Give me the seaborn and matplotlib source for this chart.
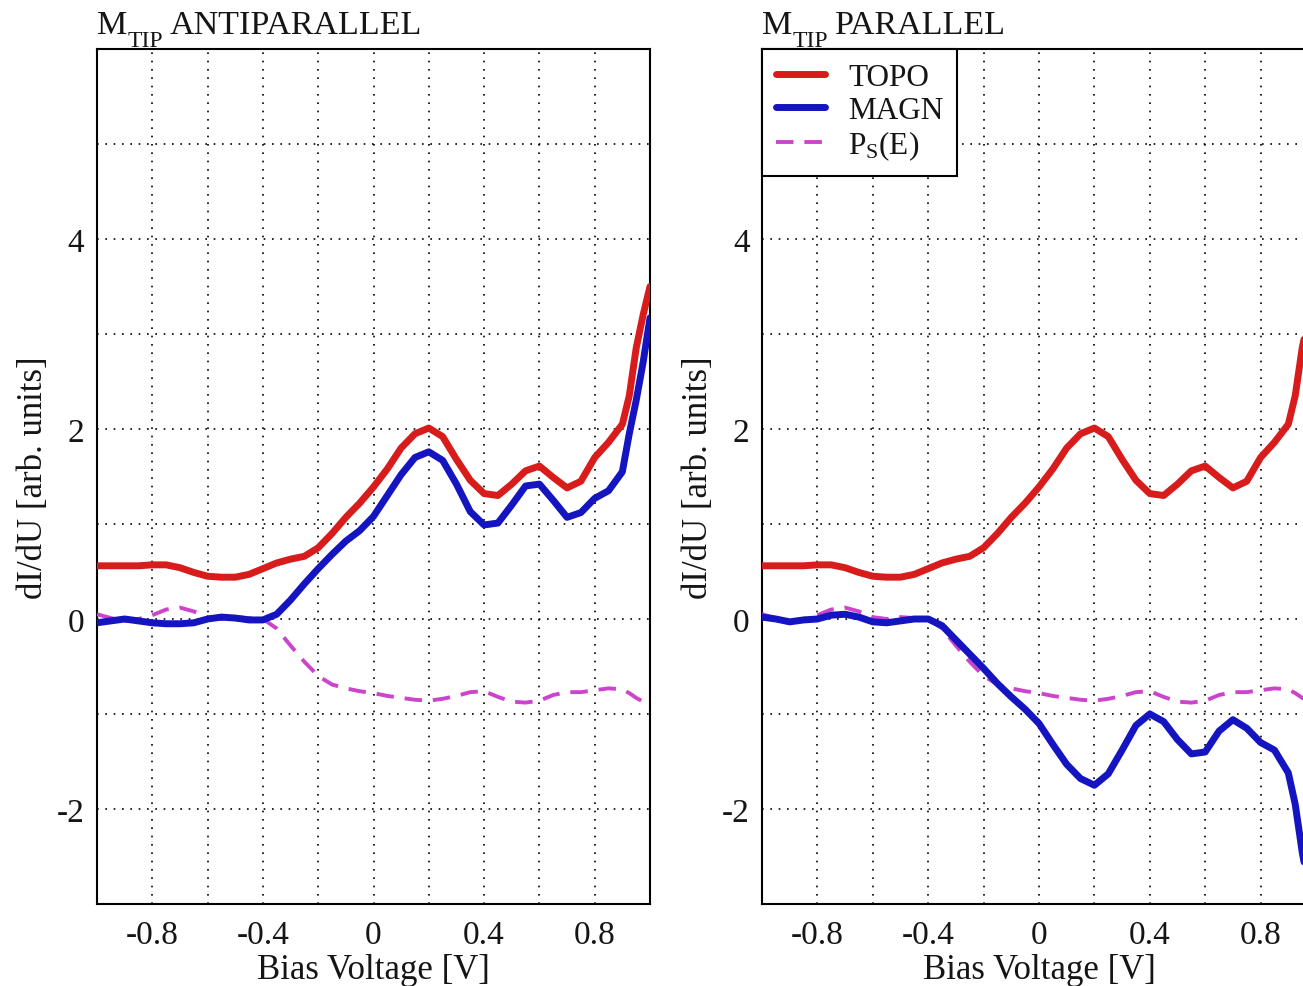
import numpy as np
import pandas as pd
import matplotlib
matplotlib.use("Agg")
import matplotlib.pyplot as plt
import seaborn as sns
from matplotlib.ticker import FixedLocator, MultipleLocator

# ---------------- data ----------------
bias = [-1.00, -0.95, -0.90, -0.85, -0.80, -0.75, -0.70, -0.65, -0.60, -0.55,
        -0.50, -0.45, -0.40, -0.35, -0.30, -0.25, -0.20, -0.15, -0.10, -0.05,
        0.00, 0.05, 0.10, 0.15, 0.20, 0.25, 0.30, 0.35, 0.40, 0.45,
        0.50, 0.55, 0.60, 0.65, 0.70, 0.75, 0.80, 0.85, 0.90, 0.925,
        0.95, 0.975, 1.00]

topo = [0.56, 0.56, 0.56, 0.56, 0.57, 0.57, 0.54, 0.49, 0.45, 0.44,
        0.44, 0.47, 0.53, 0.59, 0.63, 0.66, 0.75, 0.90, 1.07, 1.22,
        1.39, 1.58, 1.80, 1.95, 2.01, 1.92, 1.68, 1.46, 1.32, 1.30,
        1.42, 1.56, 1.61, 1.49, 1.38, 1.45, 1.70, 1.86, 2.05, 2.35,
        2.85, 3.20, 3.50]

magn_antiparallel = [-0.04, -0.02, 0.00, -0.02, -0.04, -0.05, -0.05, -0.04, 0.00, 0.02,
                     0.01, -0.01, -0.01, 0.05, 0.20, 0.37, 0.53, 0.68, 0.82, 0.93,
                     1.08, 1.30, 1.52, 1.70, 1.76, 1.67, 1.42, 1.13, 0.99, 1.01,
                     1.20, 1.40, 1.42, 1.25, 1.07, 1.12, 1.27, 1.35, 1.55, 1.95,
                     2.30, 2.70, 3.17]

magn_parallel = [0.02, 0.00, -0.03, -0.01, 0.00, 0.04, 0.05, 0.02, -0.03, -0.04,
                 -0.02, 0.00, 0.00, -0.07, -0.22, -0.37, -0.52, -0.68, -0.82, -0.95,
                 -1.10, -1.32, -1.53, -1.68, -1.75, -1.63, -1.38, -1.12, -1.00, -1.08,
                 -1.27, -1.42, -1.40, -1.18, -1.06, -1.15, -1.30, -1.38, -1.62, -1.95,
                 -2.45, -2.85, -3.20]

ps = [0.05, 0.01, -0.02, 0.00, 0.04, 0.10, 0.12, 0.08, 0.02, 0.00,
      0.02, 0.01, 0.00, -0.10, -0.28, -0.45, -0.60, -0.69, -0.73, -0.76,
      -0.78, -0.81, -0.83, -0.85, -0.86, -0.84, -0.81, -0.77, -0.76, -0.82,
      -0.87, -0.88, -0.86, -0.80, -0.77, -0.77, -0.75, -0.73, -0.74, -0.78,
      -0.83, -0.87, -0.90]

title_main = "M"
title_sub = "TIP"
panel_titles = ["ANTIPARALLEL", "PARALLEL"]
series_labels = ["TOPO", "MAGN", r"P$_{\rm S}$(E)"]
xtick_vals = [-0.8, -0.4, 0, 0.4, 0.8]
xtick_labels = ["-0.8", "-0.4", "0", "0.4", "0.8"]
ytick_vals = [-2, 0, 2, 4]
ytick_labels = ["-2", "0", "2", "4"]

# ---------------- style ----------------
sns.set_style("white")
plt.rcParams["font.family"] = ["Liberation Serif", "DejaVu Serif"]
plt.rcParams["mathtext.fontset"] = "custom"
plt.rcParams["mathtext.rm"] = "Liberation Serif"
plt.rcParams["mathtext.it"] = "Liberation Serif:italic"
plt.rcParams["mathtext.bf"] = "Liberation Serif:bold"

RED = "#d81c1c"
BLUE = "#1414c0"
MAG = "#cc44cc"
TXT = "#151515"
FS_TICK = 24
FS_LAB = 25
FS_TITLE = 24.5
FS_LEG = 22.5

W, H = 1303, 987
fig = plt.figure(figsize=(W / 100, H / 100), dpi=100)
axL = fig.add_axes([97 / W, 82 / H, 553 / W, 855 / H])
axR = fig.add_axes([762 / W, 82 / H, 554 / W, 855 / H])

for ax, magn, title in [(axL, magn_antiparallel, panel_titles[0]),
                        (axR, magn_parallel, panel_titles[1])]:
    df = pd.DataFrame({"bias": bias, "topo": topo, "magn": magn, "ps": ps})
    sns.lineplot(data=df, x="bias", y="topo", ax=ax, color=RED, lw=5,
                 errorbar=None, label=series_labels[0], zorder=4,
                 solid_joinstyle="round")
    sns.lineplot(data=df, x="bias", y="magn", ax=ax, color=BLUE, lw=5,
                 errorbar=None, label=series_labels[1], zorder=5,
                 solid_joinstyle="round")
    sns.lineplot(data=df, x="bias", y="ps", ax=ax, color=MAG, lw=2.8,
                 errorbar=None, label=series_labels[2], zorder=3,
                 linestyle=(0, (4.5, 2.8)))
    ax.set_xlim(-1.0, 1.0)
    ax.set_ylim(-3, 6)
    ax.xaxis.set_major_locator(FixedLocator(xtick_vals))
    ax.set_xticklabels(xtick_labels)
    ax.xaxis.set_minor_locator(MultipleLocator(0.2))
    ax.yaxis.set_major_locator(FixedLocator(ytick_vals))
    ax.set_yticklabels(ytick_labels)
    ax.yaxis.set_minor_locator(MultipleLocator(1))
    ax.grid(True, which="both", color="black", lw=1.2, linestyle=(0, (1, 4)))
    ax.set_axisbelow(True)
    ax.tick_params(which="both", length=0, labelsize=FS_TICK, colors=TXT)
    ax.tick_params(axis="x", pad=11)
    ax.tick_params(axis="y", pad=9)
    for sp in ax.spines.values():
        sp.set_visible(True)
        sp.set_color("black")
        sp.set_linewidth(1.5)
    ax.set_xlabel("Bias Voltage [V]", fontsize=FS_LAB, color=TXT, labelpad=2)
    ax.set_ylabel("dI/dU [arb. units]", fontsize=FS_LAB, color=TXT, labelpad=5)
    # title: M with a sunk subscript TIP, then the panel name
    t1 = ax.text(0, 1.0 + 16 / 855, title_main, transform=ax.transAxes,
                 ha="left", va="baseline", fontsize=FS_TITLE, color=TXT)
    t2 = ax.annotate(title_sub, xy=(1, 0), xycoords=t1, xytext=(0, -8),
                     textcoords="offset points", ha="left", va="bottom",
                     fontsize=17, color=TXT)
    ax.annotate(title, xy=(1, 0), xycoords=(t2, t1), xytext=(5, 0),
                textcoords="offset points", ha="left", va="bottom",
                fontsize=FS_TITLE, color=TXT)
    leg = ax.get_legend()
    if leg is not None:
        leg.remove()

handles, labels = axR.get_legend_handles_labels()
leg = axR.legend(handles, labels, loc="upper left", borderaxespad=0,
                 fancybox=False, edgecolor="black", framealpha=1,
                 fontsize=FS_LEG, handlelength=1.55, handletextpad=0.75,
                 labelspacing=0.12, borderpad=0.45)
leg.get_frame().set_linewidth(1.5)
for t in leg.get_texts():
    t.set_color(TXT)

fig.savefig("out.png", dpi=100)
